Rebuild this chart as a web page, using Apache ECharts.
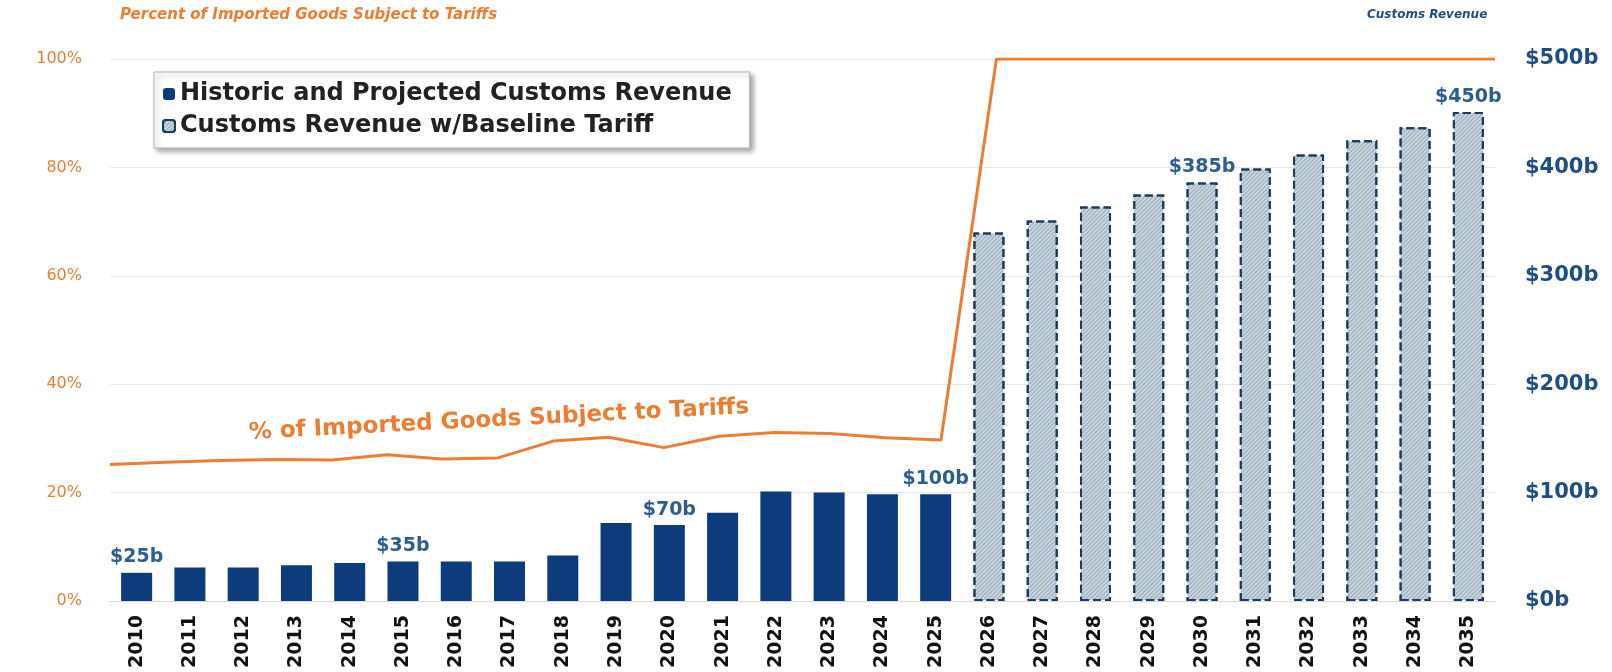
<!DOCTYPE html>
<html>
<head>
<meta charset="utf-8">
<title>Customs Revenue</title>
<script src="https://cdn.jsdelivr.net/npm/echarts@6/dist/echarts.min.js"></script>
<style>
  html, body { margin: 0; padding: 0; background: #fff; }
  #chart { width: 1612px; height: 672px; }
</style>
</head>
<body>
<div id="chart"></div>
<script>
const years = ['2010', '2011', '2012', '2013', '2014', '2015', '2016', '2017', '2018', '2019', '2020', '2021', '2022',
  '2023', '2024', '2025', '2026', '2027', '2028', '2029', '2030', '2031', '2032', '2033', '2034', '2035'];

// $ billions
const historicRevenue = [26, 31, 31, 33, 35, 36.5, 36.5, 36.5, 42, 72, 70, 81.5, 101, 100, 98.5, 98.5,
  null, null, null, null, null, null, null, null, null, null];
const baselineRevenue = [null, null, null, null, null, null, null, null, null, null, null, null, null, null, null, null,
  340, 351, 364, 375, 386, 399, 412, 425, 437, 451];
const barLabels = ['$25b', '', '', '', '', '$35b', '', '', '', '', '$70b', '', '', '', '', '$100b',
  '', '', '', '', '$385b', '', '', '', '', '$450b'];

// share of imported goods subject to tariffs, %
const tariffShare = [25.2, 25.6, 25.9, 26.1, 26, 27, 26.2, 26.4, 29.5, 30.2, 28.3, 30.4, 31.1, 30.9, 30.1, 29.7,
  100, 100, 100, 100, 100, 100, 100, 100, 100, 100];

const percentTicks = { min: 0, max: 100, interval: 20 };
const revenueTicks = { min: 0, max: 500, interval: 100 };

const FONT = 'DejaVu Sans';
const ORANGE = '#ED7D31';
const NAVY = '#0E3B7C';
const AXIS_BLUE = '#1F4E84';
const LABEL_BLUE = '#2F5E8E';

const chart = echarts.init(document.getElementById('chart'));

const barLabel = {
  show: true,
  position: 'top',
  distance: 6,
  fontFamily: FONT,
  fontWeight: 'bold',
  fontSize: 19,
  color: LABEL_BLUE,
  formatter(p) {
    return barLabels[p.dataIndex];
  },
};

const option = {
  animation: false,
  backgroundColor: '#fff',
  grid: { left: 110, right: 117, top: 59, bottom: 71 },
  legend: {
    data: ['Historic and Projected Customs Revenue', 'Customs Revenue w/Baseline Tariff'],
    orient: 'vertical',
    left: 154,
    top: 72,
    padding: [10, 18, 10, 8],
    itemGap: 8,
    itemWidth: 12,
    itemHeight: 12,
    backgroundColor: '#fff',
    borderColor: '#b5b5b5',
    borderWidth: 1,
    shadowColor: 'rgba(0,0,0,0.35)',
    shadowBlur: 5,
    shadowOffsetX: 3,
    shadowOffsetY: 3,
    textStyle: { fontFamily: FONT, fontWeight: 600, fontSize: 24, color: '#222' },
  },
  graphic: [
    {
      type: 'text', left: 120, top: 8,
      style: { text: 'Percent of Imported Goods Subject to Tariffs', fontFamily: FONT, fontStyle: 'italic',
        fontWeight: 'bold', fontSize: 15, fill: ORANGE },
    },
    {
      type: 'text', left: 1367, top: 9,
      style: { text: 'Customs Revenue', fontFamily: FONT, fontStyle: 'italic',
        fontWeight: 'bold', fontSize: 12, fill: AXIS_BLUE },
    },
    {
      type: 'text', x: 499, y: 420, rotation: 0.052,
      style: { text: '% of Imported Goods Subject to Tariffs', fontFamily: FONT, fontWeight: 'bold',
        fontSize: 23, fill: ORANGE, align: 'center', verticalAlign: 'middle' },
    },
  ],
  xAxis: [
    {
      type: 'category',
      data: years,
      axisLine: { show: true, lineStyle: { color: '#d9d9d9' } },
      axisTick: { show: false },
      axisLabel: { rotate: 90, margin: 14, fontFamily: FONT, fontWeight: 'bold', fontSize: 19, color: '#111' },
    },
    {
      // the tariff line runs edge to edge of the plot
      type: 'category',
      data: years,
      boundaryGap: false,
      show: false,
    },
  ],
  yAxis: [
    {
      type: 'value',
      ...percentTicks,
      axisLine: { show: false },
      axisTick: { show: false },
      splitLine: { lineStyle: { color: '#e6e6e6', width: 1 } },
      axisLabel: { margin: 28, fontFamily: FONT, fontSize: 16, color: ORANGE, formatter: '{value}%' },
    },
    {
      type: 'value',
      ...revenueTicks,
      axisLine: { show: false },
      axisTick: { show: false },
      splitLine: { show: false },
      axisLabel: { margin: 30, fontFamily: FONT, fontWeight: 'bold', fontSize: 21, color: AXIS_BLUE,
        formatter: '${value}b' },
    },
  ],
  series: [
    {
      name: 'Historic and Projected Customs Revenue',
      type: 'bar',
      yAxisIndex: 1,
      data: historicRevenue,
      barWidth: 31,
      barGap: '-100%',
      itemStyle: { color: NAVY },
      label: barLabel,
      z: 2,
    },
    {
      name: 'Customs Revenue w/Baseline Tariff',
      type: 'bar',
      yAxisIndex: 1,
      data: baselineRevenue,
      barWidth: 31,
      barGap: '-100%',
      itemStyle: {
        color: '#C8D6E0',
        borderColor: '#1E3A5C',
        borderWidth: 2,
        borderType: 'dashed',
        decal: {
          symbol: 'rect',
          dashArrayX: [1, 0],
          dashArrayY: [1, 2],
          rotation: -Math.PI / 4,
          color: 'rgba(80,100,120,0.4)',
        },
      },
      label: barLabel,
      z: 2,
    },
    {
      name: 'Tariff share',
      type: 'line',
      xAxisIndex: 1,
      yAxisIndex: 0,
      data: tariffShare,
      symbol: 'none',
      lineStyle: { color: ORANGE, width: 3 },
      z: 5,
    },
  ],
};

chart.setOption(option);
</script>
</body>
</html>
